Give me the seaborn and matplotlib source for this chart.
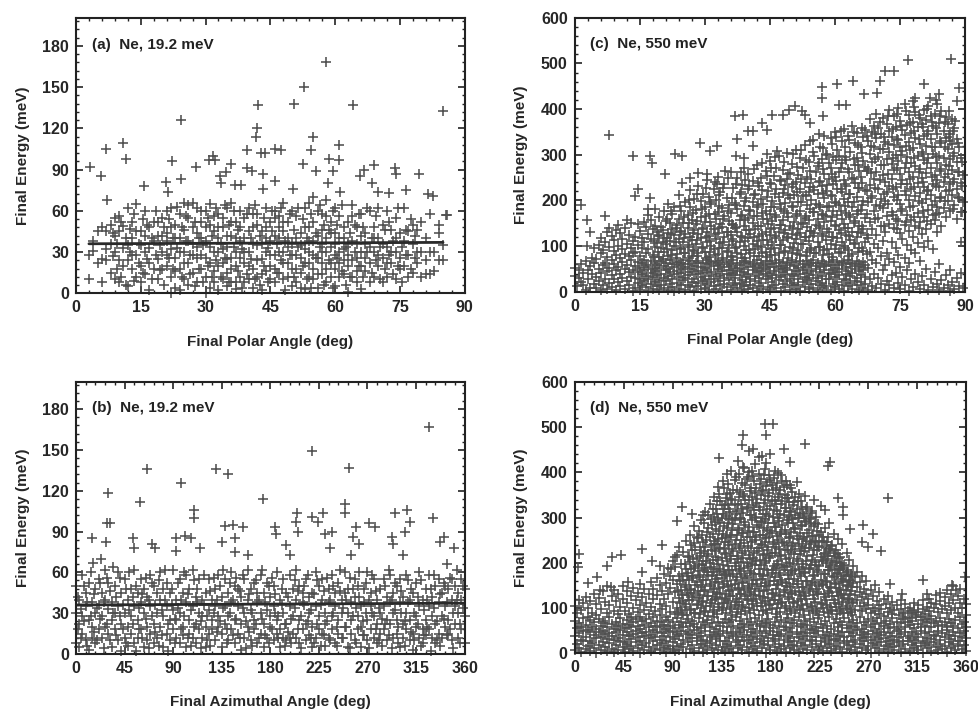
import matplotlib
matplotlib.use("Agg")
import matplotlib.pyplot as plt
import seaborn as sns
import pandas as pd
from matplotlib.ticker import MultipleLocator

# ---------------- data ----------------
# Panel (a): Ne 19.2 meV, polar angle vs final energy. (angle, [energies])
a_columns = [
    (3, [10, 28]), (4, [31, 38]), (5, [22, 45]), (6, [8, 25, 48]), (7, [32, 45, 24]),
    (8, [50, 15, 36]), (9, [55, 42, 10, 30]), (10, [24, 56, 8, 45]), (11, [33, 49, 20]),
    (12, [62, 5, 24, 35]), (13, [18, 40, 52, 28]), (14, [28, 65, 45, 12]), (15, [45, 20, 8, 35]),
    (16, [30, 60, 14, 42]), (17, [48, 22, 2, 33]), (18, [18, 38, 52]), (19, [52, 25, 10, 42]),
    (20, [42, 30, 55, 18]), (21, [44, 20, 38, 28, 60]), (22, [12, 62, 32, 0, 48]),
    (23, [50, 4, 26, 40, 16]), (24, [58, 18, 40, 2, 30]), (25, [66, 10, 30, 46, 22]),
    (26, [55, 22, 6, 38, 64]), (27, [66, 36, 15, 48, 28]), (28, [62, 44, 8, 26, 34]),
    (29, [28, 52, 18, 40, 60]), (30, [60, 38, 12, 0, 26, 48]), (31, [50, 22, 4, 65, 34]),
    (32, [45, 30, 16, 56, 8]), (33, [58, 40, 20, 2, 30, 48]), (34, [48, 10, 32, 55, 22]),
    (35, [62, 25, 5, 42, 15, 34]), (36, [66, 42, 18, 26, 8, 52]), (37, [52, 30, 8, 3, 40, 20]),
    (38, [60, 12, 38, 26, 48]), (39, [55, 22, 40, 8, 30]), (40, [62, 10, 30, 20, 45]),
    (41, [48, 18, 4, 36, 58]), (42, [58, 35, 12, 50, 24]), (43, [45, 25, 2, 36, 14]),
    (44, [62, 30, 16, 48, 40]), (45, [52, 20, 38, 10, 28]), (46, [60, 8, 28, 55, 42, 18]),
    (47, [48, 15, 40, 30, 56]), (48, [66, 30, 10, 45, 22, 52]), (49, [52, 22, 40, 12, 34]),
    (50, [60, 5, 18, 36, 28]), (51, [56, 8, 28, 40, 18]), (52, [44, 15, 35, 4, 26]),
    (53, [62, 22, 3, 48, 32]), (54, [48, 12, 30, 66, 22, 38]), (55, [70, 38, 18, 52, 28, 10]),
    (56, [60, 4, 26, 42, 14]), (57, [58, 30, 14, 46, 22, 36]), (58, [68, 40, 8, 56, 30, 18]),
    (59, [52, 22, 34, 12, 44]), (60, [44, 18, 5, 62, 28, 36]), (61, [56, 30, 12, 40, 22]),
    (62, [40, 24, 48, 14, 32]), (63, [52, 20, 1, 36, 28]), (64, [64, 38, 12, 56, 24]),
    (65, [48, 26, 8, 36, 16]), (66, [58, 30, 3, 42, 20]), (67, [44, 16, 36, 26]),
    (68, [60, 22, 8, 34]), (69, [48, 12, 30, 40]), (70, [62, 20, 40, 28]), (71, [50, 8, 26, 36]),
    (72, [60, 34, 12, 22]), (73, [46, 22, 30]), (74, [30, 10, 55, 40]), (75, [44, 18, 26]),
    (76, [38, 62, 20]), (77, [28, 12, 45]), (78, [50, 36, 15]), (79, [22, 46, 30]),
    (80, [12, 30, 52]), (81, [24, 40, 14]), (82, [14, 58, 30]), (83, [30, 16]),
    (84, [44, 50, 24]), (85, [24, 35]), (86, [57]),
]
a_columns_fill = [
    (8.5, [27, 44]), (9.5, [18, 36]), (10.5, [52, 12]), (11.5, [40, 6]), (12.5, [30, 47]),
    (13.5, [9, 58]), (14.5, [36, 22]), (15.5, [54, 15]), (16.5, [25, 50]), (17.5, [40, 10]),
    (18.5, [60, 28]), (19.5, [35, 17]), (20.5, [48, 6]), (21.5, [26, 54]), (22.5, [40, 18]),
    (23.5, [63, 33]), (24.5, [12, 48]), (25.5, [38, 56]), (26.5, [28, 14]), (27.5, [52, 5]),
    (28.5, [40, 18]), (29.5, [8, 35]), (30.5, [55, 20]), (31.5, [42, 12]), (32.5, [62, 24]),
    (33.5, [36, 12]), (34.5, [26, 64]), (35.5, [50, 8]), (36.5, [34, 60]), (37.5, [16, 46]),
    (38.5, [4, 32]), (39.5, [58, 14]), (40.5, [40, 25]), (41.5, [64, 10]), (42.5, [42, 6]),
    (43.5, [55, 20]), (44.5, [33, 8]), (45.5, [60, 45]), (46.5, [15, 36]), (47.5, [24, 62]),
    (48.5, [38, 2]), (49.5, [58, 28]), (50.5, [12, 46]), (51.5, [34, 62]), (52.5, [54, 20]),
    (53.5, [10, 40]), (54.5, [58, 4]), (55.5, [26, 44]), (56.5, [64, 34]), (57.5, [6, 50]),
    (58.5, [24, 46]), (59.5, [60, 4]), (60.5, [50, 26]), (61.5, [16, 64]), (62.5, [34, 6]),
    (63.5, [44, 12]), (64.5, [30, 50]), (65.5, [58, 20]), (66.5, [12, 48]), (67.5, [62, 30]),
    (68.5, [40, 15]), (69.5, [24, 56]), (70.5, [10, 34]), (71.5, [46, 18]), (72.5, [52, 28]),
    (73.5, [14, 38]), (74.5, [62, 20]), (75.5, [34, 8]), (76.5, [46, 28]), (77.5, [54, 18]),
    (78.5, [26, 42]),
]
a_out_angle = [3.3, 5.9, 7.0, 7.2, 11.0, 11.5, 15.7, 20.9, 21.3, 22.3, 24.3, 24.4, 27.7, 30.9,
               31.7, 32.3, 33.3, 33.6, 34.8, 36.0, 36.9, 38.3, 39.6, 39.6, 40.8, 41.6, 41.9, 42.1,
               42.9, 43.3, 43.3, 43.7, 46.0, 46.0, 47.5, 50.6, 50.2, 52.9, 52.5, 54.9, 54.5, 55.6,
               57.9, 58.5, 58.3, 59.5, 61.0, 61.0, 61.2, 64.1, 65.7, 66.8, 69.1, 68.6, 69.9, 72.6,
               73.8, 74.2, 76.5, 79.4, 81.5, 82.6, 85.0, 85.7]
a_out_energy = [92, 85, 105, 68, 109, 98, 78, 81, 74, 96, 126, 83, 92, 97,
                100, 97, 85, 80, 88, 94, 79, 79, 104, 91, 89, 114, 120, 137,
                102, 87, 76, 102, 105, 82, 104, 138, 76, 150, 94, 114, 104, 89,
                168, 98, 80, 89, 108, 97, 74, 137, 85, 90, 93, 80, 74, 73,
                91, 87, 75, 87, 72, 71, 133, 57]
a_line_angle = [3, 85]
a_line_energy = [36.0, 37.0]

# Panel (b): Ne 19.2 meV, azimuthal angle vs final energy
b_columns = [
    (0, [8, 30, 50]), (3, [22, 40, 5]), (6, [15, 28, 58]), (9, [35, 10, 45]), (12, [25, 3, 52]),
    (15, [12, 38, 20]), (18, [48, 8, 30]), (21, [18, 55, 36]), (24, [28, 12, 45]), (27, [40, 20, 62]),
    (30, [15, 33, 52]), (33, [25, 5, 38]), (36, [18, 50, 30]), (39, [35, 10, 60]), (42, [22, 45, 2]),
    (45, [30, 12, 55]), (48, [40, 20, 6]), (51, [15, 48, 28]), (54, [35, 8, 62]), (57, [25, 45, 12]),
    (60, [18, 38, 55]), (63, [30, 5, 48]), (66, [20, 42, 10]), (69, [35, 15, 58]), (72, [22, 50, 8]),
    (75, [12, 30, 45]), (78, [40, 20, 60]), (81, [28, 5, 48]), (84, [15, 35, 52]), (87, [25, 45, 10]),
    (90, [32, 18, 62]), (93, [12, 40, 25]), (96, [30, 55, 8]), (99, [20, 45, 14]), (102, [38, 5, 58]),
    (105, [25, 48, 15]), (108, [35, 12, 62]), (111, [22, 42, 8]), (114, [30, 55, 18]), (117, [12, 40, 28]),
    (120, [45, 20, 5]), (123, [32, 55, 15]), (126, [18, 40, 25]), (129, [48, 10, 35]), (132, [28, 58, 20]),
    (135, [15, 42, 5]), (138, [35, 22, 55]), (141, [10, 45, 28]), (144, [38, 18, 60]), (147, [25, 50, 8]),
    (150, [15, 35, 48]), (153, [42, 22, 3]), (156, [30, 55, 12]), (159, [20, 40, 62]), (162, [48, 10, 32]),
    (165, [25, 52, 18]), (168, [38, 8, 45]), (171, [15, 30, 58]), (174, [45, 22, 5]), (177, [32, 12, 52]),
    (180, [20, 42, 28]), (183, [50, 10, 35]), (186, [25, 60, 15]), (189, [40, 18, 5]), (192, [12, 30, 55]),
    (195, [10, 45, 22]), (198, [35, 12, 58]), (201, [15, 28, 48]), (204, [12, 40, 62]), (207, [25, 8, 50]),
    (210, [38, 18, 45]), (213, [22, 55, 10]), (216, [30, 42, 14]), (219, [45, 20, 5]), (222, [12, 35, 60]),
    (225, [28, 50, 18]), (228, [40, 15, 55]), (231, [22, 30, 6]), (234, [48, 12, 38]), (237, [18, 58, 28]),
    (240, [35, 8, 45]), (243, [25, 52, 15]), (246, [12, 40, 30]), (249, [45, 20, 60]), (252, [30, 5, 48]),
    (255, [15, 38, 25]), (258, [42, 10, 55]), (261, [28, 50, 18]), (264, [20, 35, 5]), (267, [48, 14, 38]),
    (270, [25, 60, 10]), (273, [35, 18, 45]), (276, [12, 28, 55]), (279, [40, 22, 8]), (282, [30, 48, 15]),
    (285, [18, 55, 35]), (288, [42, 10, 25]), (291, [22, 38, 58]), (294, [30, 12, 45]), (297, [15, 50, 25]),
    (300, [38, 5, 55]), (303, [22, 42, 12]), (306, [30, 58, 18]), (309, [10, 40, 25]), (312, [45, 15, 3]),
    (315, [28, 52, 20]), (318, [12, 35, 60]), (321, [40, 18, 8]), (324, [25, 48, 14]), (327, [35, 18, 58]),
    (330, [12, 28, 42]), (333, [22, 50, 8]), (336, [38, 15, 55]), (339, [28, 45, 12]), (342, [50, 20, 35]),
    (345, [15, 48, 25]), (348, [40, 10, 55]), (351, [22, 35, 50]), (354, [30, 12, 45]), (357, [18, 40, 55]),
    (360, [28, 8, 48]),
]
b_columns_fill = [
    (1.5, [18, 42]), (4.5, [33, 12]), (7.5, [50, 24]), (10.5, [6, 38]), (13.5, [28, 60]),
    (16.5, [44, 16]), (19.5, [10, 34]), (22.5, [52, 26]), (25.5, [38, 4]), (28.5, [22, 56]),
    (31.5, [46, 10]), (34.5, [30, 64]), (37.5, [14, 42]), (40.5, [56, 28]), (43.5, [36, 18]),
    (46.5, [8, 48]), (49.5, [60, 32]), (52.5, [22, 42]), (55.5, [50, 2]), (58.5, [34, 18]),
    (61.5, [12, 44]), (64.5, [56, 26]), (67.5, [40, 4]), (70.5, [28, 52]), (73.5, [16, 36]),
    (76.5, [54, 6]), (79.5, [32, 14]), (82.5, [40, 62]), (85.5, [22, 2]), (88.5, [48, 36]),
    (91.5, [8, 26]), (94.5, [52, 34]), (97.5, [18, 40]), (100.5, [28, 60]), (103.5, [44, 12]),
    (106.5, [6, 32]), (109.5, [54, 20]), (112.5, [38, 48]), (115.5, [24, 4]), (118.5, [58, 36]),
    (121.5, [10, 28]), (124.5, [46, 6]), (127.5, [30, 56]), (130.5, [16, 40]), (133.5, [50, 24]),
    (136.5, [34, 62]), (139.5, [8, 18]), (142.5, [52, 30]), (145.5, [40, 14]), (148.5, [26, 56]),
    (151.5, [12, 46]), (154.5, [58, 34]), (157.5, [4, 24]), (160.5, [44, 16]), (163.5, [30, 6]),
    (166.5, [54, 22]), (169.5, [12, 40]), (172.5, [26, 62]), (175.5, [38, 14]), (178.5, [8, 50]),
    (181.5, [56, 18]), (184.5, [30, 44]), (187.5, [12, 28]), (190.5, [48, 36]), (193.5, [22, 6]),
    (196.5, [42, 16]), (199.5, [8, 26]), (202.5, [34, 54]), (205.5, [18, 46]), (208.5, [4, 28]),
    (211.5, [50, 36]), (214.5, [24, 58]), (217.5, [12, 32]), (220.5, [44, 8]), (223.5, [22, 54]),
    (226.5, [36, 6]), (229.5, [14, 46]), (232.5, [56, 24]), (235.5, [40, 10]), (238.5, [30, 50]),
    (241.5, [6, 20]), (244.5, [46, 62]), (247.5, [34, 12]), (250.5, [20, 40]), (253.5, [56, 4]),
    (256.5, [28, 48]), (259.5, [8, 34]), (262.5, [42, 60]), (265.5, [24, 14]), (268.5, [52, 30]),
    (271.5, [4, 40]), (274.5, [30, 58]), (277.5, [46, 18]), (280.5, [10, 34]), (283.5, [26, 6]),
    (286.5, [50, 22]), (289.5, [14, 62]), (292.5, [40, 4]), (295.5, [32, 52]), (298.5, [8, 20]),
    (301.5, [46, 30]), (304.5, [24, 6]), (307.5, [54, 38]), (310.5, [16, 48]), (313.5, [30, 10]),
    (316.5, [42, 22]), (319.5, [6, 54]), (322.5, [32, 14]), (325.5, [20, 40]), (328.5, [48, 2]),
    (331.5, [34, 58]), (334.5, [10, 24]), (337.5, [44, 6]), (340.5, [26, 52]), (343.5, [14, 38]),
    (346.5, [56, 18]), (349.5, [4, 30]), (352.5, [40, 62]), (355.5, [22, 8]), (358.5, [50, 34]),
]
b_out_angle = [29.7, 28.8, 31.9, 28.1, 14.8, 23.5, 15.8, 59, 53, 53.6, 66, 70, 73, 92.5, 92.5, 97.7,
               100.8, 107, 109.5, 109.5, 115, 130, 141, 135, 138, 145.7, 147, 147, 155, 159.6, 173.5,
               184, 185.6, 195, 198, 203.8, 204.4, 206, 219, 219, 224.5, 228.6, 231, 237, 235, 249,
               249, 252.5, 254.5, 257, 259.5, 261.7, 271, 277, 292.6, 293.5, 295.7, 302.8, 305, 306.5,
               309.6, 327, 331, 337.5, 341, 350.4, 344]
b_out_energy = [118, 96, 96, 82, 85, 70, 67, 112, 85, 78, 136, 81, 78, 85, 76, 126,
                87, 85, 106, 100, 78, 136, 132, 82, 94, 95, 85, 75, 93, 73, 114,
                93, 88, 80, 73, 97, 104, 90, 149, 101, 97, 104, 88, 90, 78, 104,
                110, 137, 73, 86, 93, 81, 96, 93, 86, 81, 104, 73, 90, 106,
                97, 167, 100, 82, 86, 78, 66]
b_line_angle = [0, 360]
b_line_energy = [36.0, 37.3]

# Panel (c): Ne 550 meV, polar angle vs final energy
c_columns = [
    (0, [35, 52]), (0.5, [12]), (1, [30, 48]), (1.5, [22, 60]), (2, [15, 42]), (2.5, [5, 68]),
    (3, [28, 47]), (3.5, [9, 56]), (4, [38, 75]), (4.5, [18, 62, 95]), (5, [8, 33, 71]),
    (5.5, [24, 50, 102]), (6, [3, 41, 84, 118]), (6.5, [16, 58, 92]), (7, [29, 64, 108]),
    (7.5, [6, 45, 77, 131]), (8, [19, 53, 98, 140]), (8.5, [11, 36, 70, 122]), (9, [27, 61, 89, 113]),
    (9.5, [4, 47, 80, 136]), (10, [21, 55, 101, 147]), (10.5, [13, 39, 74, 128]),
    (11, [30, 66, 94, 116]), (11.5, [7, 50, 83, 139]), (12, [24, 59, 105, 158]),
    (12.5, [15, 43, 78, 124]), (13, [33, 69, 97, 150]), (13.5, [2, 48, 86, 112]),
    (14, [8, 31, 57, 88, 121]), (14.5, [19, 44, 66, 103, 148]), (15, [4, 27, 52, 79, 134]),
    (15.5, [14, 39, 63, 96, 117]), (16, [23, 48, 70, 109, 152]), (16.5, [10, 35, 59, 84, 141]),
    (17, [2, 29, 54, 93, 127, 168]), (17.5, [17, 42, 67, 115, 158]), (18, [6, 33, 50, 81, 138]),
    (18.5, [21, 46, 64, 99, 145, 182]), (19, [12, 37, 58, 107, 131]), (19.5, [3, 26, 53, 76, 122, 163]),
    (20, [15, 40, 68, 95, 142]), (20.5, [9, 31, 56, 87, 118, 176]), (21, [24, 47, 62, 104, 155]),
    (21.5, [5, 35, 51, 78, 129, 193]), (22, [18, 43, 69, 112, 150]), (22.5, [11, 28, 60, 91, 137, 171]),
    (23, [1, 38, 55, 101, 124, 186]), (23.5, [20, 45, 66, 83, 147]), (24, [7, 32, 58, 116, 160, 212]),
    (24.5, [14, 41, 63, 94, 133, 178]), (25, [25, 49, 70, 108, 151]), (25.5, [4, 30, 54, 86, 126, 197]),
    (26, [16, 36, 61, 99, 140, 168]), (26.5, [10, 44, 67, 120, 185, 222]), (27, [22, 51, 79, 113, 157]),
    (27.5, [2, 27, 57, 92, 135, 204]), (28, [13, 39, 64, 105, 148, 180]),
    (28.5, [19, 46, 68, 84, 127, 232]), (29, [6, 33, 55, 118, 163, 199]),
    (29.5, [24, 42, 62, 97, 139, 215]), (30, [9, 29, 52, 88, 152, 186]),
    (30.5, [17, 48, 69, 110, 131, 244]), (31, [3, 35, 60, 76, 122, 170, 208]),
    (31.5, [21, 43, 65, 101, 145, 192]), (32, [12, 28, 56, 93, 137, 226]),
    (32.5, [7, 38, 67, 115, 160, 201]), (33, [23, 50, 63, 82, 128, 175, 252]),
    (33.5, [15, 34, 58, 106, 149, 219]), (34, [1, 45, 70, 95, 141, 183]),
    (34.5, [18, 31, 54, 119, 166, 237]), (35, [10, 40, 66, 87, 132, 205]),
    (35.5, [26, 47, 61, 103, 155, 190]), (36, [5, 36, 57, 78, 124, 172, 262]),
    (36.5, [14, 42, 69, 112, 146, 228]), (37, [20, 30, 53, 97, 139, 195]),
    (37.5, [8, 46, 64, 85, 130, 181, 249]), (38, [17, 37, 59, 108, 158, 214]),
    (38.5, [3, 25, 51, 74, 121, 168, 233]), (39, [12, 44, 68, 100, 143, 188, 271]),
    (39.5, [22, 33, 62, 91, 135, 206]), (40, [6, 40, 55, 117, 162, 224, 258]),
    (40.5, [16, 28, 66, 84, 127, 176]), (41, [9, 48, 60, 104, 150, 197, 243]),
    (41.5, [24, 35, 57, 93, 138, 215]), (42, [2, 43, 69, 111, 167, 186, 277]),
    (42.5, [13, 31, 52, 79, 123, 231]), (43, [19, 46, 64, 98, 145, 203, 250]),
    (43.5, [7, 38, 58, 114, 159, 192]), (44, [27, 49, 67, 88, 132, 178, 264]),
    (44.5, [11, 34, 55, 103, 148, 220]), (45, [4, 41, 61, 81, 125, 170, 238, 287]),
    (45.5, [21, 30, 68, 109, 154, 199]), (46, [15, 45, 54, 95, 140, 185, 254]),
    (46.5, [8, 37, 63, 118, 163, 226, 272]), (47, [25, 49, 70, 86, 131, 208, 298]),
    (47.5, [1, 32, 57, 102, 147, 181, 242]), (48, [18, 43, 66, 113, 158, 217, 266]),
    (48.5, [10, 36, 53, 90, 136, 194, 233]), (49, [23, 47, 62, 120, 172, 246, 303]),
    (49.5, [5, 29, 59, 98, 143, 205, 261]), (50, [14, 40, 69, 84, 127, 188, 229, 280]),
    (50.5, [20, 34, 56, 107, 153, 212]), (51, [7, 45, 65, 116, 166, 241, 311]),
    (51.5, [16, 27, 52, 92, 138, 197, 256]), (52, [2, 39, 68, 80, 129, 178, 224, 292]),
    (52.5, [22, 48, 60, 104, 150, 209, 270]), (53, [11, 33, 55, 119, 162, 238, 322]),
    (53.5, [26, 42, 67, 88, 141, 191, 251]), (54, [6, 30, 58, 111, 157, 218, 284]),
    (54.5, [17, 46, 63, 96, 134, 201, 247]), (55, [9, 37, 70, 123, 174, 229, 305, 333]),
    (55.5, [24, 50, 57, 85, 147, 193, 262]), (56, [3, 31, 64, 108, 160, 214, 276]),
    (56.5, [15, 44, 54, 99, 139, 185, 243, 318]), (57, [20, 35, 68, 126, 170, 232, 290]),
    (57.5, [8, 48, 61, 91, 152, 205, 258, 341]), (58, [13, 28, 56, 114, 165, 221, 302]),
    (58.5, [27, 41, 66, 82, 131, 188, 247, 283]), (59, [4, 38, 59, 105, 155, 212, 270, 337]),
    (59.5, [18, 47, 69, 121, 177, 236, 296]), (60, [10, 32, 53, 94, 143, 197, 251, 350]),
    (60.5, [22, 43, 65, 117, 168, 226, 311]), (61, [6, 36, 58, 87, 136, 190, 263, 298]),
    (61.5, [16, 49, 62, 110, 159, 218, 282, 330]), (62, [1, 29, 67, 100, 149, 203, 244, 357]),
    (62.5, [25, 40, 55, 125, 172, 231, 289]), (63, [12, 46, 70, 92, 140, 196, 268, 341]),
    (63.5, [19, 34, 60, 113, 163, 215, 305]), (64, [7, 42, 64, 83, 130, 185, 249, 362]),
    (64.5, [23, 51, 57, 106, 156, 239, 278, 326]), (65, [14, 30, 68, 119, 170, 208, 294, 348]),
    (65.5, [3, 45, 61, 97, 145, 228, 265]), (66, [21, 37, 54, 128, 179, 252, 316]),
    (66.5, [9, 48, 66, 89, 138, 199, 287, 340]), (67, [17, 33, 59, 110, 161, 223, 273, 355]),
    (67.5, [5, 52, 118, 196, 268, 331]), (68, [27, 88, 152, 234, 302, 378]),
    (68.5, [12, 70, 137, 210, 285, 350]), (69, [40, 104, 176, 248, 318, 362]),
    (69.5, [8, 62, 125, 190, 263, 337, 390]), (70, [31, 95, 162, 225, 296, 358]),
    (70.5, [18, 78, 143, 204, 277, 345]), (71, [47, 112, 184, 255, 312, 381]),
    (71.5, [3, 58, 131, 198, 240, 327]), (72, [24, 86, 167, 218, 290, 368]),
    (72.5, [14, 72, 149, 232, 305, 352, 398]), (73, [36, 108, 175, 246, 280, 340]),
    (73.5, [9, 66, 139, 207, 266, 322, 385]), (74, [42, 97, 160, 229, 299, 361]),
    (74.5, [20, 81, 154, 213, 287, 333, 402]), (75, [6, 55, 128, 192, 258, 316, 374]),
    (75.5, [33, 115, 182, 244, 308, 355]), (76, [16, 74, 146, 221, 272, 343, 411]),
    (76.5, [48, 102, 169, 237, 295, 366]), (77, [2, 63, 134, 200, 262, 329, 388]),
    (77.5, [28, 91, 158, 226, 283, 348]), (78, [11, 120, 188, 251, 314, 372, 418]),
    (78.5, [39, 84, 143, 209, 276, 336, 393]), (79, [22, 107, 173, 238, 297, 360]),
    (79.5, [7, 68, 152, 216, 268, 324, 380]), (80, [35, 126, 194, 249, 306, 367]),
    (80.5, [15, 99, 164, 230, 288, 341, 398]), (81, [51, 137, 203, 260, 319, 376]),
    (81.5, [4, 112, 179, 222, 292, 353, 407]), (82, [29, 148, 213, 270, 334, 385]),
    (82.5, [10, 93, 168, 236, 301, 362]), (83, [44, 157, 198, 256, 318, 390]),
    (83.5, [18, 131, 186, 245, 281, 346, 412]), (84, [3, 61, 172, 229, 298, 369]),
    (84.5, [26, 145, 207, 264, 325, 396]), (85, [9, 184, 240, 292, 352]),
    (85.5, [37, 163, 221, 278, 336, 383]), (86, [14, 199, 257, 312, 368]),
    (86.5, [2, 48, 176, 235, 290, 345]), (87, [21, 211, 266, 323, 378]),
    (87.5, [6, 189, 247, 303, 359]), (88, [30, 160, 226, 284, 335]), (88.5, [12, 205, 262, 317]),
    (89, [42, 110, 174, 238, 293]), (89.5, [8, 196, 255]),
]
c_columns_fill = [
    (18.25, [76, 112]), (19.25, [88, 124]), (20.25, [72, 108, 136]), (21.25, [94, 117, 160]),
    (22.25, [81, 126, 178]), (23.25, [73, 109, 140]), (24.25, [96, 131, 188]),
    (25.25, [84, 118, 163]), (26.25, [75, 103, 150, 201]), (27.25, [90, 128, 172]),
    (28.25, [78, 114, 156, 214]), (29.25, [99, 137, 182]), (30.25, [74, 120, 165, 228]),
    (31.25, [87, 111, 153, 196]), (32.25, [80, 126, 171, 240]), (33.25, [95, 139, 187, 212]),
    (34.25, [73, 108, 159, 228]), (35.25, [89, 130, 176, 250]), (36.25, [77, 116, 148, 205]),
    (37.25, [98, 142, 189, 236]), (38.25, [83, 123, 166, 218, 262]), (39.25, [74, 111, 157, 199, 245]),
    (40.25, [92, 135, 180, 231]), (41.25, [79, 120, 167, 212, 268]), (42.25, [100, 143, 191, 239]),
    (43.25, [85, 126, 172, 222, 281]), (44.25, [76, 114, 160, 207, 253]),
    (45.25, [94, 137, 185, 236, 272]), (46.25, [81, 122, 169, 215, 296]),
    (47.25, [102, 146, 193, 244]), (48.25, [87, 129, 177, 226, 285]),
    (49.25, [75, 117, 164, 211, 259]), (50.25, [96, 140, 186, 235, 302]),
    (51.25, [83, 125, 171, 219, 274]), (52.25, [105, 148, 196, 248, 311]),
    (53.25, [78, 121, 166, 213, 289]), (54.25, [91, 134, 182, 230, 265, 330]),
    (55.25, [86, 128, 175, 222, 297]), (56.25, [99, 144, 190, 241, 283, 345]),
    (57.25, [80, 123, 169, 217, 268, 314]), (58.25, [93, 137, 185, 233, 299]),
    (59.25, [77, 119, 163, 210, 257, 323]), (60.25, [102, 147, 194, 242, 288, 339]),
    (61.25, [85, 129, 176, 224, 271, 352]), (62.25, [95, 140, 188, 235, 296, 318]),
    (63.25, [79, 122, 168, 215, 262, 333]), (64.25, [104, 150, 197, 246, 290, 350]),
    (65.25, [88, 131, 178, 227, 277, 321]), (66.25, [97, 143, 191, 239, 304, 359]),
    (67.25, [82, 125, 171, 220, 264, 342]),
    (68.25, [205, 260, 320]), (69.25, [160, 228, 290, 345]), (70.25, [188, 245, 312, 372]),
    (71.25, [145, 215, 278, 340]), (72.25, [192, 258, 323, 384]), (73.25, [168, 226, 294, 356]),
    (74.25, [138, 201, 270, 335, 390]), (75.25, [176, 237, 300, 362]),
    (76.25, [152, 212, 281, 320, 395]), (77.25, [185, 248, 310, 370]),
    (78.25, [163, 230, 292, 352, 405]), (79.25, [140, 198, 262, 335, 388]),
    (80.25, [176, 240, 302, 360]), (81.25, [155, 220, 282, 345, 400]),
    (82.25, [190, 252, 318, 372]), (83.25, [170, 232, 296, 358, 420]),
    (84.25, [205, 268, 330, 385]), (85.25, [198, 252, 318, 372]), (86.25, [222, 275, 340, 395]),
    (87.25, [182, 240, 298, 352]), (88.25, [208, 262, 325]), (89.25, [175, 232, 285]),
]
c_out_angle = [7.8, 1.4, 2.9, 3.5, 2.8, 7.0, 13.5, 17.4, 17.8, 13.9, 14.7, 17.4, 16.8, 20.8, 23.1,
               24.7, 24.7, 26.6, 28.9, 32.8, 31.2, 28.5, 30.5, 32.7, 34.7, 37.0, 38.7, 37.3, 37.2,
               39.0, 40.0, 41.2, 41.2, 43.1, 44.3, 45.4, 44.3, 46.6, 48.1, 49.3, 50.8, 52.3, 53.1,
               54.3, 57.0, 57.0, 60.4, 60.8, 64.1, 62.6, 57.3, 66.6, 69.6, 70.4, 71.6, 73.5, 76.9,
               80.4, 78.5, 81.8, 83.9, 86.7, 88.1, 88.5, 87.7, 86.5]
c_out_energy = [344, 191, 158, 131, 101, 166, 297, 297, 282, 209, 224, 206, 182, 257, 301,
                297, 239, 250, 326, 319, 308, 261, 257, 235, 264, 385, 388, 335, 297,
                293, 352, 352, 320, 370, 354, 388, 301, 308, 388, 399, 407, 396, 388,
                370, 449, 425, 454, 410, 461, 410, 385, 432, 436, 461, 483, 483, 507,
                454, 425, 425, 434, 509, 417, 447, 374, 330]

# Panel (d): Ne 550 meV, azimuthal angle vs final energy
d_columns = [
    (0, [6, 38, 71, 104]), (2, [21, 55, 88]), (4, [12, 44, 67, 118]), (6, [3, 30, 59, 96]),
    (8, [26, 49, 78, 110]), (10, [9, 35, 63, 125]), (12, [17, 52, 80, 101]), (14, [4, 28, 46, 74, 116]),
    (16, [22, 58, 90]), (18, [11, 40, 69, 131]), (20, [1, 33, 54, 84, 108]), (22, [19, 47, 76, 122]),
    (24, [8, 36, 61, 97]), (26, [25, 50, 72, 137]), (28, [14, 42, 66, 113]), (30, [5, 31, 57, 89, 148]),
    (32, [23, 45, 79, 106]), (34, [10, 37, 64, 126]), (36, [2, 29, 53, 93, 140]), (38, [18, 48, 70, 115]),
    (40, [7, 34, 60, 86, 132]), (42, [27, 51, 77, 103]), (44, [13, 41, 65, 121, 149]),
    (46, [3, 24, 56, 94]), (48, [20, 46, 73, 110, 138]), (50, [9, 38, 62, 87]),
    (52, [16, 32, 58, 81, 127]), (54, [5, 43, 68, 99, 145]), (56, [24, 50, 75, 118]),
    (58, [11, 35, 60, 91, 134]), (60, [1, 28, 54, 79, 107, 152]), (62, [18, 45, 71, 124]),
    (64, [8, 39, 63, 96, 141]), (66, [22, 48, 76, 112]), (68, [14, 33, 59, 87, 130]),
    (70, [4, 41, 66, 103, 158]), (72, [26, 52, 80, 119, 143]), (74, [10, 36, 61, 94]),
    (76, [19, 47, 72, 128, 166]), (78, [6, 30, 57, 85, 109, 150]), (80, [23, 44, 69, 98, 137]),
    (82, [12, 38, 63, 120, 175]), (84, [2, 27, 53, 81, 104, 155]), (86, [17, 49, 74, 131, 188]),
    (88, [9, 35, 60, 92, 145, 170]), (90, [25, 46, 68, 113, 162, 204]),
    (92, [4, 31, 56, 86, 136, 190]), (94, [15, 42, 77, 101, 152, 218]),
    (96, [7, 37, 62, 123, 171, 235]), (98, [21, 50, 70, 95, 140, 197]),
    (100, [13, 29, 58, 84, 116, 163, 224]), (102, [1, 43, 67, 108, 150, 186, 249]),
    (104, [24, 48, 75, 129, 178, 212]), (106, [10, 34, 61, 97, 143, 201, 262]),
    (108, [18, 40, 72, 118, 166, 229]), (110, [5, 52, 64, 88, 134, 189, 243, 281]),
    (112, [27, 33, 57, 106, 157, 210, 256]), (114, [11, 45, 78, 122, 174, 198, 270]),
    (116, [20, 38, 55, 99, 146, 222, 295]), (118, [3, 30, 69, 113, 161, 205, 247]),
    (120, [15, 49, 63, 92, 139, 188, 236, 312]), (122, [8, 26, 74, 127, 179, 216, 268]),
    (124, [23, 41, 59, 104, 152, 199, 258, 329]), (126, [12, 36, 67, 117, 170, 228, 284]),
    (128, [1, 47, 80, 96, 141, 186, 241, 302, 345]), (130, [19, 31, 54, 125, 164, 213, 275, 320]),
    (132, [6, 43, 70, 108, 158, 206, 252, 294, 368]), (134, [26, 39, 61, 133, 181, 233, 287, 337]),
    (136, [14, 50, 66, 99, 147, 195, 264, 309, 381]), (138, [4, 28, 76, 121, 172, 220, 246, 328]),
    (140, [21, 44, 57, 110, 160, 203, 277, 352, 397]), (142, [9, 33, 68, 137, 185, 239, 296, 319]),
    (144, [17, 48, 73, 103, 151, 214, 262, 341, 404]), (146, [2, 37, 60, 126, 176, 226, 285, 362]),
    (148, [24, 42, 79, 114, 163, 193, 251, 307, 389]), (150, [11, 30, 55, 98, 144, 209, 272, 331, 425]),
    (152, [19, 46, 71, 130, 182, 237, 300, 356]), (154, [7, 35, 64, 107, 155, 221, 266, 318, 376]),
    (156, [27, 51, 58, 139, 188, 243, 291, 347, 410]), (158, [13, 40, 75, 119, 167, 200, 257, 323, 385]),
    (160, [3, 29, 62, 101, 149, 217, 280, 338, 401, 448]), (162, [22, 47, 69, 132, 178, 233, 305, 365]),
    (164, [10, 36, 54, 115, 162, 211, 268, 327, 392]), (166, [16, 44, 78, 142, 196, 250, 298, 354, 418]),
    (168, [5, 32, 65, 104, 154, 227, 284, 342]), (170, [25, 49, 60, 127, 175, 206, 262, 316, 374]),
    (172, [12, 39, 72, 112, 165, 240, 293, 359, 436]), (174, [20, 28, 57, 138, 186, 219, 276, 333, 395]),
    (176, [1, 45, 67, 96, 148, 203, 255, 309, 370, 420]), (178, [18, 34, 76, 123, 172, 236, 288, 348]),
    (180, [8, 50, 63, 108, 159, 214, 270, 325, 384, 441]), (182, [26, 41, 56, 134, 183, 247, 302, 361]),
    (184, [14, 31, 70, 117, 168, 222, 280, 339, 403]), (186, [4, 47, 80, 100, 151, 197, 259, 314, 376]),
    (188, [21, 37, 61, 129, 178, 231, 293, 352]), (190, [9, 43, 74, 111, 162, 215, 268, 330, 394]),
    (192, [17, 29, 58, 140, 190, 243, 306, 368]), (194, [2, 52, 68, 105, 156, 208, 263, 321, 380]),
    (196, [24, 39, 77, 124, 174, 228, 287, 343]), (198, [11, 33, 55, 98, 146, 199, 254, 312, 371]),
    (200, [19, 46, 66, 131, 181, 237, 296, 357]), (202, [6, 27, 73, 114, 165, 220, 274, 334]),
    (204, [15, 42, 60, 102, 152, 205, 259, 318, 378]), (206, [3, 35, 79, 136, 187, 241, 300, 352]),
    (208, [23, 48, 64, 120, 170, 226, 283, 336]), (210, [10, 31, 57, 97, 147, 198, 252, 309]),
    (212, [18, 44, 71, 127, 178, 232, 290, 348]), (214, [7, 38, 62, 109, 160, 214, 266, 323]),
    (216, [26, 51, 76, 138, 189, 245, 298]), (218, [13, 30, 54, 103, 155, 207, 260, 315]),
    (220, [1, 45, 69, 121, 172, 228, 281, 339]), (222, [20, 36, 59, 94, 143, 196, 249, 302]),
    (224, [8, 49, 78, 130, 180, 237, 286]), (226, [16, 27, 65, 111, 162, 213, 268, 325]),
    (228, [4, 41, 56, 99, 150, 203, 256]), (230, [25, 34, 72, 125, 175, 222, 277, 317]),
    (232, [12, 47, 61, 106, 157, 208, 245]), (234, [21, 38, 80, 133, 184, 230, 288]),
    (236, [5, 29, 53, 96, 144, 195, 238]), (238, [17, 43, 67, 118, 168, 215, 263]),
    (240, [9, 32, 75, 102, 152, 201, 229]), (242, [27, 50, 58, 126, 177, 219, 252]),
    (244, [14, 39, 70, 93, 140, 187, 212]), (246, [2, 46, 63, 114, 160, 200, 241]),
    (248, [22, 35, 78, 129, 171, 196]), (250, [10, 28, 55, 99, 148, 185, 222]),
    (252, [18, 48, 68, 120, 163, 207]), (254, [6, 37, 60, 91, 137, 176]),
    (256, [24, 44, 74, 110, 155, 192]), (258, [13, 30, 57, 96, 128, 168]),
    (260, [3, 51, 66, 117, 147, 180]), (262, [20, 40, 79, 104, 136, 158]),
    (264, [11, 33, 54, 93, 124, 171]), (266, [26, 47, 69, 112, 143]), (268, [7, 36, 62, 98, 131, 160]),
    (270, [16, 42, 75, 107, 121]), (272, [1, 29, 58, 89, 139]), (274, [23, 49, 71, 101, 127]),
    (276, [12, 35, 64, 94, 150]), (278, [19, 45, 77, 115]), (280, [5, 31, 53, 86, 106, 135]),
    (282, [25, 40, 67, 98]), (284, [9, 48, 61, 82, 121]), (286, [17, 34, 72, 109]),
    (288, [3, 27, 56, 91, 127]), (290, [21, 44, 65, 100]), (292, [13, 38, 78, 87, 114]),
    (294, [7, 30, 59, 95]), (296, [24, 49, 70, 106]), (298, [15, 36, 54, 84]),
    (300, [2, 43, 66, 97, 118]), (302, [20, 28, 75, 89]), (304, [10, 46, 57, 81, 109]),
    (306, [26, 39, 68, 93]), (308, [5, 33, 62, 78, 101]), (310, [18, 47, 71, 88]),
    (312, [12, 30, 55, 96, 111]), (314, [22, 42, 79, 85]), (316, [8, 36, 64, 92, 106]),
    (318, [16, 50, 58, 80]), (320, [1, 27, 73, 98, 117]), (322, [23, 44, 61, 87]),
    (324, [11, 34, 69, 103]), (326, [19, 48, 76, 94, 121]), (328, [4, 31, 57, 83, 112]),
    (330, [25, 41, 66, 99]), (332, [14, 37, 72, 108, 128]), (334, [6, 49, 60, 91]),
    (336, [21, 29, 78, 115, 134]), (338, [9, 45, 63, 97]), (340, [17, 35, 70, 104, 124]),
    (342, [3, 52, 58, 88, 139]), (344, [24, 40, 75, 110]), (346, [12, 32, 67, 96, 131]),
    (348, [20, 47, 61, 118, 148]), (350, [7, 38, 73, 101]), (352, [15, 28, 56, 90, 127]),
    (354, [26, 44, 79, 112, 143]), (356, [10, 36, 64, 99]), (358, [18, 50, 69, 121]),
    (360, [4, 33, 58, 85, 108]),
]
d_columns_fill = [
    (95, [92, 138]), (97, [110, 160]), (99, [88, 175, 128]), (101, [102, 146, 198]),
    (103, [85, 133, 170]), (105, [118, 162, 215]), (107, [95, 140, 186, 240]),
    (109, [124, 170, 208]), (111, [90, 150, 192, 228]), (113, [108, 137, 181, 255]),
    (115, [86, 129, 168, 214, 236]), (117, [116, 150, 195, 262]), (119, [94, 138, 184, 226, 288]),
    (121, [105, 161, 203, 250]), (123, [83, 126, 172, 219, 277, 305]),
    (125, [112, 148, 190, 240, 296]), (127, [91, 135, 180, 207, 263, 318]),
    (129, [119, 158, 226, 249, 291]), (131, [87, 131, 173, 197, 241, 309, 336]),
    (133, [103, 145, 187, 230, 270, 352]), (135, [95, 122, 166, 211, 254, 299, 327]),
    (137, [110, 154, 180, 233, 281, 318, 365]), (139, [88, 132, 176, 221, 259, 303, 344]),
    (141, [116, 149, 193, 245, 288, 331, 374]), (143, [98, 127, 170, 209, 256, 312, 355]),
    (145, [84, 139, 184, 230, 272, 300, 340]), (147, [106, 153, 199, 242, 294, 327, 383]),
    (149, [92, 121, 168, 216, 261, 315, 362]), (151, [113, 141, 187, 232, 276, 345, 396]),
    (153, [86, 130, 175, 201, 250, 297, 331]), (155, [102, 158, 210, 265, 310, 352, 413]),
    (157, [94, 126, 171, 226, 283, 338, 371]), (159, [117, 144, 192, 238, 270, 321, 390]),
    (161, [89, 135, 181, 209, 258, 306, 358]), (163, [108, 152, 197, 247, 295, 346, 403]),
    (165, [96, 128, 175, 222, 268, 317, 382]), (167, [120, 161, 204, 256, 301, 333, 366]),
    (169, [85, 137, 186, 233, 279, 324, 397]), (171, [104, 149, 195, 241, 290, 349, 386]),
    (173, [93, 125, 170, 218, 262, 308, 362]), (175, [115, 156, 199, 247, 296, 340, 408]),
    (177, [88, 139, 184, 229, 273, 318, 379]), (179, [107, 150, 210, 258, 304, 355, 395]),
    (181, [97, 131, 177, 221, 266, 337, 372]), (183, [118, 160, 193, 242, 289, 316, 388]),
    (185, [86, 143, 188, 234, 279, 329, 366]), (187, [109, 153, 203, 251, 298, 345, 399]),
    (189, [92, 127, 172, 217, 263, 309, 362]), (191, [114, 158, 196, 245, 283, 336, 381]),
    (193, [99, 136, 183, 229, 272, 321, 350]), (195, [87, 148, 192, 240, 295, 343, 373]),
    (197, [121, 165, 211, 256, 302, 334]), (199, [94, 133, 178, 223, 268, 314, 365]),
    (201, [110, 152, 197, 244, 287, 328]), (203, [89, 138, 183, 230, 276, 305, 346]),
    (205, [116, 160, 209, 253, 298, 337]), (207, [96, 129, 175, 219, 265, 311]),
    (209, [107, 147, 190, 238, 281, 323]), (211, [85, 133, 179, 226, 258, 303]),
    (213, [119, 160, 204, 249, 292, 318]), (215, [93, 141, 186, 232, 273, 296]),
    (217, [105, 150, 196, 241, 285, 310]), (219, [88, 128, 170, 218, 260]),
    (221, [113, 157, 201, 247, 289]), (223, [97, 136, 183, 229, 271]),
    (225, [84, 149, 192, 236, 262]), (227, [109, 153, 207, 249]), (229, [92, 130, 176, 220, 245]),
    (231, [117, 160, 199, 232]), (233, [89, 138, 184, 215, 258]), (235, [103, 147, 190, 226]),
    (237, [94, 126, 170, 205, 240]), (239, [112, 155, 186, 221]), (241, [86, 135, 176, 199]),
    (243, [108, 145, 183, 210]), (245, [97, 130, 165, 194]), (247, [90, 122, 158, 188]),
    (249, [104, 139, 172]), (251, [88, 117, 151, 180]), (253, [98, 132, 160]),
    (255, [85, 113, 146, 170]),
]
d_out_angle = [4.3, 3.4, 12.6, 20.2, 30, 34, 43, 23, 33, 49, 61.6, 61.6, 70.8, 80, 78.5, 89,
               93.8, 98.4, 92.3, 107.6, 118.3, 133, 155, 153.6, 164, 175, 182.7, 176, 169, 192,
               198, 212, 233, 234.6, 242.5, 247, 265.5, 274.6, 270, 282, 288.5, 290, 300.8, 320,
               323.8, 346.8, 351, 359, 264, 253, 247]
d_out_energy = [220, 190, 155, 168, 193, 212, 218, 139, 146, 157, 231, 179, 205, 240, 193, 187,
                292, 323, 212, 308, 305, 432, 482, 461, 452, 508, 508, 482, 434, 451,
                424, 463, 415, 424, 343, 323, 283, 264, 235, 225, 343, 153, 131, 161,
                131, 150, 139, 168, 246, 275, 306]


def build(column_sets, out_angle, out_energy):
    ang, en = [], []
    for columns in column_sets:
        for a, ys in columns:
            for y in ys:
                ang.append(a)
                en.append(y)
    ang += list(out_angle)
    en += list(out_energy)
    return pd.DataFrame({"angle": ang, "energy": en})


df_a = build([a_columns, a_columns_fill], a_out_angle, a_out_energy)
df_b = build([b_columns, b_columns_fill], b_out_angle, b_out_energy)
df_c = build([c_columns, c_columns_fill], c_out_angle, c_out_energy)
df_d = build([d_columns, d_columns_fill], d_out_angle, d_out_energy)

# ---------------- style ----------------
sns.set_theme(style="ticks")
plt.rcParams["font.family"] = ["Liberation Sans", "DejaVu Sans"]
plt.rcParams["font.weight"] = "bold"
plt.rcParams["axes.labelweight"] = "bold"

MARK = "#505050"
fig = plt.figure(figsize=(9.79, 7.10), dpi=100)

panels = [
    (df_a, [0.0776, 0.587, 0.397, 0.387], (0, 90), (0, 200), 15, 3, 30, 6,
     "Final Polar Angle (deg)", "(a)  Ne, 19.2 meV", (a_line_angle, a_line_energy)),
    (df_c, [0.587, 0.589, 0.399, 0.386], (0, 90), (0, 600), 15, 3, 100, 20,
     "Final Polar Angle (deg)", "(c)  Ne, 550 meV", None),
    (df_b, [0.0776, 0.079, 0.397, 0.383], (0, 360), (0, 200), 45, 9, 30, 6,
     "Final Azimuthal Angle (deg)", "(b)  Ne, 19.2 meV", (b_line_angle, b_line_energy)),
    (df_d, [0.587, 0.080, 0.400, 0.382], (0, 360), (0, 600), 45, 9, 100, 20,
     "Final Azimuthal Angle (deg)", "(d)  Ne, 550 meV", None),
]

for df, pos, xl, yl, xmaj, xmin, ymaj, ymin, xlabel, title, line in panels:
    ax = fig.add_axes(pos)
    sns.scatterplot(data=df, x="angle", y="energy", marker="+", s=48, color=MARK,
                    linewidth=1.15, ax=ax, legend=False, clip_on=False)
    if line is not None:
        sns.lineplot(x=line[0], y=line[1], color="#2a2a2a", linewidth=2.0, ax=ax)
    ax.set_xlim(*xl)
    ax.set_ylim(*yl)
    ax.xaxis.set_major_locator(MultipleLocator(xmaj))
    ax.xaxis.set_minor_locator(MultipleLocator(xmin))
    ax.yaxis.set_major_locator(MultipleLocator(ymaj))
    ax.yaxis.set_minor_locator(MultipleLocator(ymin))
    ax.tick_params(which="both", direction="in", top=True, right=True, color="#222222")
    ax.tick_params(which="major", length=5, width=1.2, labelsize=11.5, pad=5)
    ax.tick_params(which="minor", length=2.5, width=1.0)
    for lab in ax.get_xticklabels() + ax.get_yticklabels():
        lab.set_fontweight("bold")
    for sp in ax.spines.values():
        sp.set_linewidth(1.5)
        sp.set_color("#222222")
    ax.set_xlabel(xlabel, fontsize=11, fontweight="bold", labelpad=14)
    ax.set_ylabel("Final Energy (meV)", fontsize=11, fontweight="bold", labelpad=9)
    ax.text(0.04, 0.905, title, transform=ax.transAxes, fontsize=11, fontweight="bold",
            va="center", ha="left", color="#222222")

fig.savefig("out.png", dpi=100)
